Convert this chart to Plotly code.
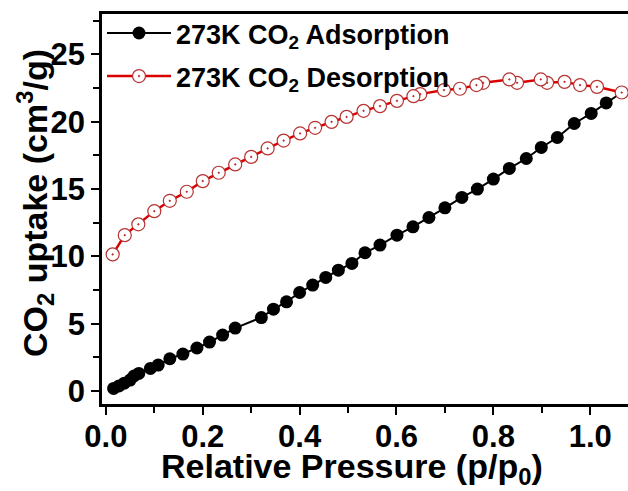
import plotly.graph_objects as go

# Adsorption branch (relative pressure, uptake cm3/g)
ads_x = [0.016, 0.027, 0.038, 0.050, 0.058, 0.068, 0.092, 0.108, 0.132, 0.159, 0.188,
         0.214, 0.241, 0.267, 0.321, 0.346, 0.373, 0.400, 0.427, 0.454, 0.480, 0.508,
         0.535, 0.566, 0.601, 0.634, 0.667, 0.700, 0.735, 0.767, 0.800, 0.833, 0.868,
         0.899, 0.932, 0.967, 1.002, 1.033, 1.065]
ads_y = [0.20, 0.38, 0.59, 0.82, 1.12, 1.31, 1.68, 1.93, 2.40, 2.75, 3.20,
         3.64, 4.16, 4.68, 5.46, 6.08, 6.63, 7.32, 7.87, 8.44, 8.98, 9.48,
         10.27, 10.84, 11.58, 12.20, 12.89, 13.61, 14.38, 15.00, 15.74, 16.53, 17.27,
         18.09, 18.83, 19.87, 20.62, 21.40, 22.17]

# Desorption branch
des_x = [1.065, 1.014, 0.979, 0.947, 0.911, 0.898, 0.849, 0.833, 0.779, 0.765, 0.731,
         0.698, 0.649, 0.635, 0.601, 0.566, 0.532, 0.497, 0.466, 0.432, 0.401, 0.367,
         0.334, 0.300, 0.267, 0.233, 0.200, 0.167, 0.132, 0.100, 0.067, 0.039, 0.014]
des_y = [22.17, 22.59, 22.72, 22.96, 22.89, 23.14, 22.89, 23.14, 22.89, 22.72, 22.45,
         22.35, 22.05, 21.90, 21.55, 21.16, 20.81, 20.36, 19.99, 19.55, 19.13, 18.60,
         18.02, 17.39, 16.83, 16.21, 15.59, 14.80, 14.13, 13.36, 12.38, 11.58, 10.15]

x_ticks = [0.0, 0.2, 0.4, 0.6, 0.8, 1.0]
x_labels = ["0.0", "0.2", "0.4", "0.6", "0.8", "1.0"]
y_ticks = [0, 5, 10, 15, 20, 25]
y_labels = ["0", "5", "10", "15", "20", "25"]

FONT = "Liberation Sans, Arial, sans-serif"

fig = go.Figure()
fig.add_trace(go.Scatter(
    x=ads_x, y=ads_y, mode="lines+markers",
    name="273K CO<sub>2</sub> Adsorption", legendgroup="a",
    line=dict(color="black", width=2),
    marker=dict(symbol="circle", size=13, color="black"),
))
fig.add_trace(go.Scatter(
    x=des_x, y=des_y, mode="lines+markers",
    name="273K CO<sub>2</sub> Desorption", legendgroup="b",
    line=dict(color="#d80000", width=2.5),
    marker=dict(symbol="circle-dot", size=13, color="white",
                line=dict(color="#b83232", width=1.2)),
))

axis_common = dict(
    showgrid=False, zeroline=False,
    showline=True, linecolor="black", linewidth=2.5,
    ticks="outside", ticklen=8, tickwidth=2, tickcolor="black",
    tickfont=dict(family=FONT, size=31, color="black", weight="bold"),
)

title_font = dict(family=FONT, size=34, color="black", weight="bold")

fig.update_layout(
    width=628, height=491,
    margin=dict(l=102, r=0, t=14, b=87),
    paper_bgcolor="white", plot_bgcolor="white",
    showlegend=True,
    legend=dict(
        x=0.0, y=1.013, xanchor="left", yanchor="top",
        bgcolor="rgba(0,0,0,0)",
        font=dict(family=FONT, size=27, color="black", weight="bold"),
        itemwidth=64, tracegroupgap=5,
    ),
    xaxis=dict(
        **axis_common,
        range=[-0.008, 1.078],
        tickvals=x_ticks, ticktext=x_labels,
        ticklabelstandoff=-5,
        mirror=True,
        minor=dict(dtick=0.1, tick0=0, ticklen=6, tickwidth=2, tickcolor="black", ticks="outside"),
    ),
    yaxis=dict(
        **axis_common,
        range=[-0.96, 28.0],
        tickvals=y_ticks, ticktext=y_labels,
        minor=dict(dtick=2.5, tick0=0, ticklen=6, tickwidth=2, tickcolor="black", ticks="outside"),
    ),
    annotations=[
        dict(text="Relative Pressure (p/p<sub>0</sub>)", xref="paper", yref="paper",
             x=(352 - 102) / 526, y=-(468 - 404) / 390, xanchor="center", yanchor="middle",
             showarrow=False, font=title_font),
        dict(text="CO<sub>2</sub> uptake (cm<sup>3</sup>/g)", xref="paper", yref="paper",
             x=-(102 - 35) / 526, y=(404 - 203) / 390, xanchor="center", yanchor="middle",
             textangle=-90, showarrow=False, font=title_font),
    ],
)

fig.write_html("out.html")
